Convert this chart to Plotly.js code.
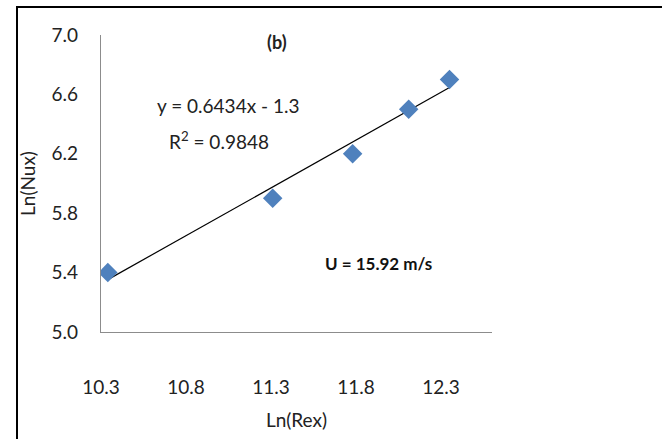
<!DOCTYPE html>
<html>
<head>
<meta charset="utf-8">
<script src="https://cdn.plot.ly/plotly-3.0.1.min.js"></script>
<style>
  html, body { margin: 0; padding: 0; background: #fff; overflow: hidden; }
  #frame { position: absolute; left: 16px; top: 6px; width: 700px; height: 500px; border: 2px solid #000; }
  #chart { position: absolute; left: 0; top: 0; width: 662px; height: 439px; }
</style>
</head>
<body>
<div id="frame"></div>
<div id="chart"></div>
<script>
// Data
const lnRex = [10.34, 11.31, 11.78, 12.11, 12.35];
const lnNux = [5.40, 5.90, 6.20, 6.50, 6.70];
// Trendline coefficients as printed on the chart
const slope = 0.6434;
const intercept = -1.3;
const xTicks = [10.3, 10.8, 11.3, 11.8, 12.3];
const xTickLabels = ['10.3', '10.8', '11.3', '11.8', '12.3'];
const yTicks = [5.0, 5.4, 5.8, 6.2, 6.6, 7.0];
const yTickLabels = ['5.0', '5.4', '5.8', '6.2', '6.6', '7.0'];

const xMin = Math.min(...lnRex), xMax = Math.max(...lnRex);
const trendX = [xMin, xMax];
const trendY = trendX.map(v => slope * v + intercept);

const FONT = 'Lato, "Open Sans", sans-serif';

const traces = [
  {
    x: trendX, y: trendY, type: 'scatter', mode: 'lines',
    line: { color: '#000000', width: 1.2 }, hoverinfo: 'skip', showlegend: false
  },
  {
    x: lnRex, y: lnNux, type: 'scatter', mode: 'markers',
    marker: { symbol: 'diamond', size: 15, color: '#4F81BD', line: { width: 0 } },
    showlegend: false
  }
];

const layout = {
  width: 662, height: 439,
  margin: { l: 101, r: 170, t: 35, b: 107 },
  paper_bgcolor: 'rgba(0,0,0,0)',
  plot_bgcolor: 'rgba(0,0,0,0)',
  font: { family: FONT, size: 19, color: '#222' },
  showlegend: false,
  xaxis: {
    range: [10.3, 12.6], tickvals: xTicks, ticktext: xTickLabels,
    showgrid: false, zeroline: false, showline: true, linecolor: '#8c8c8c', linewidth: 1.2,
    ticks: '', ticklabelstandoff: 38, tickfont: { family: FONT, size: 19, color: '#222' },
    title: { text: 'Ln(Rex)', font: { family: FONT, size: 19, color: '#222' }, standoff: 16 }
  },
  yaxis: {
    range: [5.0, 7.0], tickvals: yTicks, ticktext: yTickLabels,
    showgrid: false, zeroline: false, showline: true, linecolor: '#8c8c8c', linewidth: 1.2,
    ticks: '', ticklabelstandoff: 18, tickfont: { family: FONT, size: 19, color: '#222' },
    title: { text: 'Ln(Nux)', font: { family: FONT, size: 19, color: '#222' }, standoff: 10 }
  },
  annotations: [
    { text: '<b>(b)</b>', xref: 'paper', yref: 'paper', x: (277 - 101) / 391, y: (332 - 42) / 297,
      showarrow: false, font: { family: FONT, size: 18, color: '#222' }, xanchor: 'center', yanchor: 'middle' },
    { text: 'y = 0.6434x - 1.3', xref: 'paper', yref: 'paper', x: (228 - 101) / 391, y: (332 - 105) / 297,
      showarrow: false, font: { family: FONT, size: 19, color: '#222' }, xanchor: 'center', yanchor: 'middle' },
    { text: 'R<sup>2</sup> = 0.9848', xref: 'paper', yref: 'paper', x: (219 - 101) / 391, y: (332 - 140) / 297,
      showarrow: false, font: { family: FONT, size: 19, color: '#222' }, xanchor: 'center', yanchor: 'middle' },
    { text: '<b>U = 15.92 m/s</b>', xref: 'paper', yref: 'paper', x: (378 - 101) / 391, y: (332 - 263) / 297,
      showarrow: false, font: { family: FONT, size: 17, color: '#111' }, xanchor: 'center', yanchor: 'middle' }
  ]
};

Plotly.newPlot('chart', traces, layout, { displayModeBar: false, staticPlot: true });
</script>
</body>
</html>
